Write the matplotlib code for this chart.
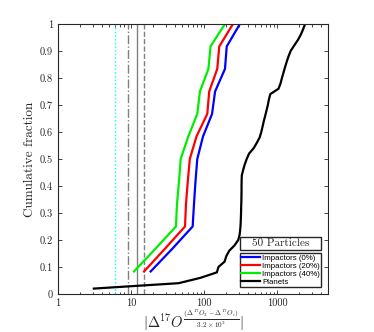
import numpy as np
import matplotlib
matplotlib.use('Agg')
import matplotlib.pyplot as plt
from matplotlib.patches import Rectangle

plt.rcParams['mathtext.fontset'] = 'cm'
plt.rcParams['font.family'] = 'serif'
plt.rcParams['font.serif'] = ['cmr10', 'DejaVu Serif']
plt.rcParams['axes.formatter.use_mathtext'] = True

# cumulative fractions (12 impactors, 50 planets)
imp_frac = [k / 12 for k in range(1, 13)]
planet_frac = [k / 50 for k in range(1, 51)]

# |Delta17O| values
imp_0 = [18.6, 36.6, 70, 73, 76.5, 81, 97, 129, 142, 194, 205, 311]
imp_20 = [15.1, 29, 55, 56.7, 60, 64, 79, 111, 118, 152, 162, 250]
imp_40 = [11.0, 21.5, 41.3, 42.7, 45.5, 48, 61, 81, 88, 115, 123, 194]
planets = [3.1, 45, 90, 150, 158, 192, 202, 222, 262, 295,
           308, 314, 318, 320, 322, 323, 325, 326, 327, 327,
           328, 330, 345, 362, 385, 415, 480, 530, 580, 610,
           635, 660, 690, 720, 750, 775, 810, 1050, 1120, 1170,
           1230, 1290, 1360, 1440, 1540, 1720, 1930, 2120, 2280, 2430]

# reference vertical lines
vline_x = [6.0, 9.1, 12.0, 15.0]
vline_style = [':', '-.', '-', '--']
vline_color = ['cyan', 'gray', 'gray', 'gray']

xticks = [1, 10, 100, 1000]
xtick_labels = ['1', '10', '100', '1000']
yticks = np.arange(0, 11) / 10
ytick_labels = ['0', '0.1', '0.2', '0.3', '0.4', '0.5', '0.6', '0.7', '0.8', '0.9', '1']

axcol = '#262626'

fig = plt.figure(figsize=(3.74, 3.32), dpi=100)
ax = fig.add_axes([0.155, 0.1145, 0.722, 0.8135])

for x, ls, c in zip(vline_x, vline_style, vline_color):
    ax.axvline(x, color=c, linestyle=ls, linewidth=1)

ax.plot(imp_0, imp_frac, color='blue', linewidth=1.6, label='Impactors (0%)')
ax.plot(imp_20, imp_frac, color='red', linewidth=1.6, label='Impactors (20%)')
ax.plot(imp_40, imp_frac, color='#00ee00', linewidth=1.6, label='Impactors (40%)')
ax.plot(planets, planet_frac, color='black', linewidth=1.6, label='Planets')

ax.set_xscale('log')
ax.set_xlim(1, 5000)
ax.set_ylim(0, 1)
ax.set_xticks(xticks)
ax.set_xticklabels(xtick_labels)
ax.set_yticks(yticks)
ax.set_yticklabels(ytick_labels)
ax.tick_params(which='both', direction='in', top=True, right=True, colors=axcol,
               labelsize=7.5, width=0.6)
ax.tick_params(which='major', length=3)
ax.tick_params(which='minor', length=1.8)
for sp in ax.spines.values():
    sp.set_color(axcol)
    sp.set_linewidth(0.8)

ax.set_ylabel('Cumulative fraction', fontsize=9.5, color=axcol, labelpad=3)
ax.set_xlabel(r'$|\Delta^{17}O^{\frac{(\Delta^{17}O_3-\Delta^{17}O_i)}{3.2\times10^2}}|$',
              fontsize=10.5, color=axcol, labelpad=0)

# title box above the legend
ax.add_patch(Rectangle((0.675, 0.163), 0.30, 0.049, transform=ax.transAxes,
                       facecolor='white', edgecolor=axcol, linewidth=1, zorder=5))
ax.text(0.825, 0.1875, '50 Particles', transform=ax.transAxes, ha='center',
        va='center', fontsize=8, color=axcol, zorder=6)

leg = ax.legend(loc='upper left', bbox_to_anchor=(0.675, 0.027, 0.30, 0.124),
                mode='expand', labelspacing=0.05, borderpad=0.15,
                handlelength=2.3, handletextpad=0.3, borderaxespad=0,
                fancybox=False, framealpha=1,
                prop={'family': ['Liberation Sans', 'DejaVu Sans'], 'size': 5.7})
leg.get_frame().set_edgecolor(axcol)
leg.get_frame().set_linewidth(1)

fig.savefig('out.png', dpi=100)
